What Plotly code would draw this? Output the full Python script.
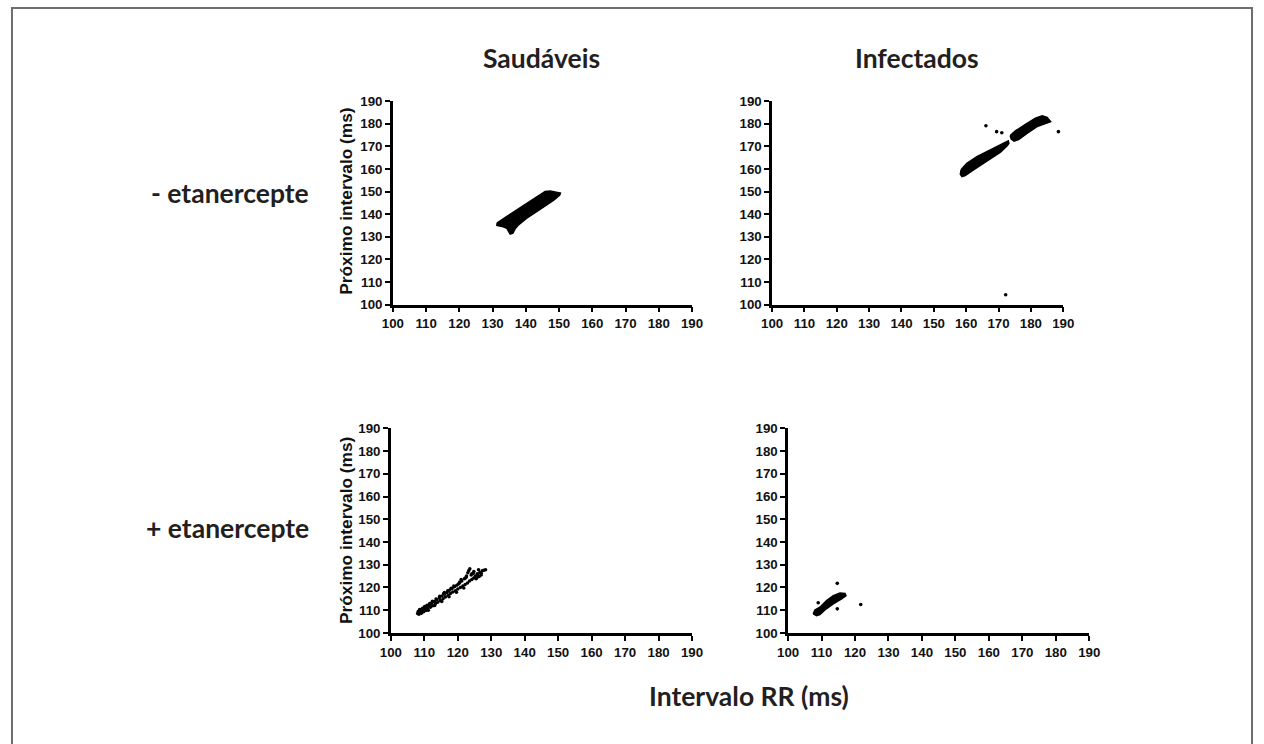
import plotly.graph_objects as go

W, H = 1264, 744

# ---------------- data ----------------
col_titles = ["Saudáveis", "Infectados"]
row_titles = ["- etanercepte", "+ etanercepte"]
x_title = "Intervalo RR (ms)"
y_title = "Próximo intervalo (ms)"
tick_vals = [100, 110, 120, 130, 140, 150, 160, 170, 180, 190]

# Saudáveis, - etanercepte : dense cloud outline (RR, next RR)
sm_x = [131.3, 132.3, 134.3, 137.3, 140.3, 143.3, 145.8, 147.3, 149.3, 150.4, 150.2, 149.3, 148.5, 146.3, 143.3, 140.3, 137.8, 136.8, 136.1, 135.3, 134.8, 134.3, 132.8, 131.3]
sm_y = [136.0, 137.1, 139.0, 141.9, 144.9, 147.8, 150.0, 150.3, 149.7, 149.3, 148.5, 147.1, 146.3, 144.1, 141.2, 138.2, 135.3, 133.5, 131.6, 131.2, 132.4, 133.8, 134.6, 135.0]

# Infectados, - etanercepte : two dense segments + outliers
im1_x = [158.4, 160.2, 163.3, 166.4, 169.5, 172.0, 173.0, 173.2, 172.6, 170.6, 167.5, 164.4, 161.8, 159.7, 158.7, 158.2]
im1_y = [159.6, 162.5, 165.4, 167.6, 169.9, 171.8, 172.4, 171.3, 170.2, 167.4, 164.6, 161.8, 159.1, 157.1, 156.6, 157.6]
im2_x = [173.6, 175.2, 178.3, 181.4, 183.5, 185.0, 186.1, 184.5, 181.9, 178.8, 176.2, 174.8, 173.9]
im2_y = [174.8, 176.8, 179.7, 182.4, 183.5, 182.8, 180.9, 180.1, 178.7, 175.7, 173.0, 172.3, 173.2]
io_x = [166.1, 169.4, 171.0, 188.5, 172.2]
io_y = [179.1, 176.5, 176.0, 176.5, 104.4]

# Saudáveis, + etanercepte : sparse points
sp_x = [108.0, 108.3, 108.6, 109.0, 109.3, 109.7, 110.0, 110.3, 110.8, 111.0, 111.5, 111.8, 112.2, 112.5, 113.0, 113.3,
        113.8, 114.0, 114.5, 114.8, 115.3, 115.6, 116.0, 116.3, 116.8, 117.1, 117.5, 117.8, 118.3, 118.5, 119.0, 119.3,
        119.7, 120.0, 120.5, 120.8, 121.2, 121.5, 122.0, 122.2, 122.6, 122.9, 123.0, 123.3, 123.6, 123.5, 124.0, 124.2,
        124.6, 124.8, 125.2, 125.5, 125.8, 126.0, 126.4, 126.6, 127.0, 127.3, 127.8, 128.3, 121.8, 119.6, 117.4, 115.2,
        113.1, 111.2, 124.8, 122.5, 120.2, 118.0, 116.0, 121.0, 125.8, 127.0, 108.4, 109.1, 109.8, 110.5, 108.2, 108.9,
        109.5, 110.1, 110.8, 111.6, 112.4, 113.5, 114.6, 115.8, 117.0, 118.8, 120.6, 122.2, 124.2, 126.2]
sp_y = [108.5, 109.5, 110.3, 109.0, 110.5, 109.6, 111.0, 110.2, 111.5, 110.6, 112.2, 111.3, 113.0, 112.0, 113.8, 112.8,
        114.6, 113.5, 115.5, 114.3, 116.2, 115.0, 117.0, 115.8, 117.8, 116.5, 118.8, 117.3, 119.5, 118.0, 120.3, 118.6,
        121.0, 119.3, 122.0, 120.0, 122.8, 120.6, 123.8, 121.3, 125.0, 122.0, 126.5, 127.5, 128.2, 122.8, 125.5, 123.5,
        126.3, 124.2, 125.0, 123.8, 126.0, 125.5, 124.8, 126.6, 126.2, 127.3, 127.6, 127.8, 119.8, 117.9, 115.9, 113.8,
        112.1, 110.0, 127.0, 124.5, 121.5, 119.6, 117.8, 123.5, 124.5, 125.5, 108.2, 108.6, 109.3, 109.9, 109.4, 110.0,
        110.9, 111.6, 112.2, 112.9, 113.9, 114.9, 116.1, 117.3, 118.6, 120.6, 122.4, 124.0, 126.0, 127.8]

# Infectados, + etanercepte : dense cloud outline + outliers
ip_x = [107.5, 108.0, 109.5, 111.5, 113.5, 115.5, 117.0, 117.3, 116.0, 113.5, 111.0, 109.5, 108.5]
ip_y = [108.4, 110.1, 111.3, 114.2, 116.4, 117.6, 117.4, 116.4, 115.0, 112.8, 110.1, 108.1, 107.6]
ipo_x = [109.0, 114.7, 114.7, 121.7]
ipo_y = [113.3, 121.8, 110.6, 112.5]

# ---------------- layout helpers ----------------
# the photographed page appears slightly shrunk about its centre; positions below are
# target screen pixels, converted back to page pixels
S = 0.982

def px_x(p):
    q = W / 2 + (p - W / 2) / S
    return min(max(q, 0), W) / W

def px_y(p):
    q = H / 2 + (p - H / 2) / S
    return 1 - min(max(q, 0), H) / H

panels = [
    ((393, 692), (101, 305)),
    ((772, 1063), (101, 305)),
    ((391, 692), (429, 634)),
    ((788, 1089), (429, 634)),
]

fig = go.Figure()
black = "#000000"

def add_blob(xs, ys, idx):
    ax = "" if idx == 1 else str(idx)
    fig.add_trace(go.Scatter(x=xs + xs[:1], y=ys + ys[:1], mode="lines", fill="toself",
                             fillcolor=black, line=dict(color=black, width=1.5),
                             xaxis="x" + ax, yaxis="y" + ax, hoverinfo="skip", showlegend=False))

def add_pts(xs, ys, idx, size=3.6):
    ax = "" if idx == 1 else str(idx)
    fig.add_trace(go.Scatter(x=xs, y=ys, mode="markers", marker=dict(color=black, size=size, line=dict(width=0)),
                             xaxis="x" + ax, yaxis="y" + ax, showlegend=False))

add_blob(sm_x, sm_y, 1)
add_blob(im1_x, im1_y, 2)
add_blob(im2_x, im2_y, 2)
add_pts(io_x, io_y, 2)
add_pts(sp_x, sp_y, 3, size=3.5)
add_blob(ip_x, ip_y, 4)
add_pts(ipo_x, ipo_y, 4)

tickfont = dict(family="Liberation Sans, Arial, sans-serif", size=13.3, color="#111111", weight="bold")
layout = {}
for i, ((x0, x1), (yt, yb)) in enumerate(panels, start=1):
    s = "" if i == 1 else str(i)
    common = dict(range=[100, 190], tickvals=tick_vals, ticks="outside", ticklen=5, tickwidth=2,
                  tickcolor=black, showline=True, linecolor=black, linewidth=2.5, showgrid=False,
                  zeroline=False, tickfont=tickfont, fixedrange=True)
    layout["xaxis" + s] = dict(domain=[px_x(x0), px_x(x1)], anchor="y" + s, **common)
    layout["yaxis" + s] = dict(domain=[px_y(yb), px_y(yt)], anchor="x" + s, **common)

fig.update_layout(**layout)

title_font = dict(family="Lato, Open Sans, sans-serif", size=26.5, color="#231f20", weight="bold")
ann = []
def add_text(t, x, y, xa="center", font=title_font, angle=0):
    ann.append(dict(text=t, x=px_x(x), y=px_y(y), xref="paper", yref="paper", showarrow=False,
                    font=font, xanchor=xa, yanchor="middle", textangle=angle))

add_text(col_titles[0], 542, 58)
add_text(col_titles[1], 917, 58)
add_text(row_titles[0], 311, 193, xa="right")
add_text(row_titles[1], 311, 529, xa="right")
add_text(x_title, 749, 697)
ylab_font = dict(family="Liberation Sans, Arial, sans-serif", size=17.3, color="#111111", weight="bold")
for yc in (201, 531):
    add_text(y_title, 346, yc, font=ylab_font, angle=-90)

fig.update_layout(
    width=W, height=H, margin=dict(l=0, r=0, t=0, b=0),
    paper_bgcolor="white", plot_bgcolor="white",
    annotations=ann,
    shapes=[
        dict(type="rect", xref="paper", yref="paper", x0=1 / W, x1=1 - 1 / W, y0=-0.05, y1=1 - 1 / H,
             line=dict(color="#6e6e6e", width=2)),
    ],
)

fig.write_html("out.html", config={"displayModeBar": False},
               post_script="document.body.style.margin='0';document.body.style.overflow='hidden';")
